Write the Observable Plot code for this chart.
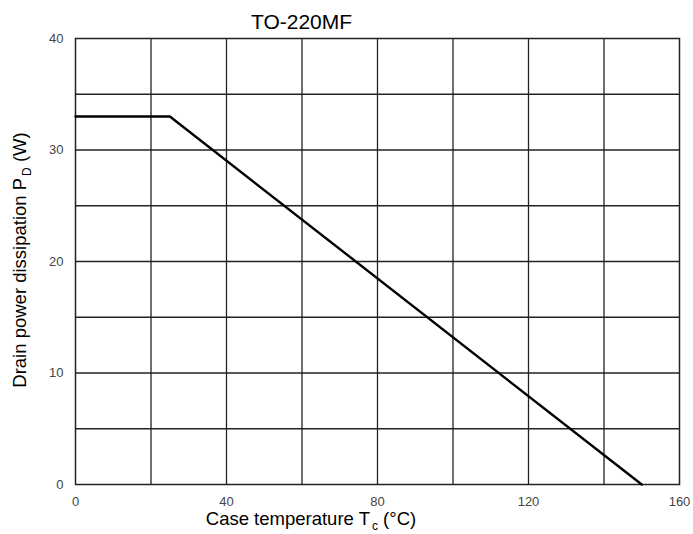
<!DOCTYPE html>
<html>
<head>
<meta charset="utf-8">
<script src="https://cdn.jsdelivr.net/npm/d3@7"></script>
<script src="https://cdn.jsdelivr.net/npm/@observablehq/plot@0.6"></script>
<style>
  html, body { margin: 0; padding: 0; background: #fff; }
  #chart { width: 693px; height: 534px; }
  svg { font-family: "Liberation Sans", Arial, sans-serif; }
</style>
</head>
<body>
<div id="chart"></div>
<script>
// Data
const tempC = [0, 25, 150];
const powerW = [33, 33, 0];
const xTickLabels = [0, 40, 80, 120, 160];
const yTickLabels = [0, 10, 20, 30, 40];
const xGrid = [20, 40, 60, 80, 100, 120, 140];
const yGrid = [5, 10, 15, 20, 25, 30, 35];
const title = "TO-220MF";

const curve = tempC.map((t, i) => ({t, p: powerW[i]}));

const plot = Plot.plot({
  width: 693,
  height: 534,
  marginLeft: 75,
  marginRight: 14,
  marginTop: 38,
  marginBottom: 50,
  style: {fontFamily: "Liberation Sans, Arial, sans-serif", background: "#fff"},
  x: {domain: [0, 160], ticks: xTickLabels, label: null, tickSize: 0, tickPadding: 12},
  y: {domain: [0, 40], ticks: yTickLabels, label: null, tickSize: 0, tickPadding: 12},
  marks: [
    Plot.ruleX(xGrid, {stroke: "#222", strokeWidth: 1.3}),
    Plot.ruleY(yGrid, {stroke: "#222", strokeWidth: 1.3}),
    Plot.frame({stroke: "#222", strokeWidth: 1.5}),
    Plot.axisX({ticks: xTickLabels, tickSize: 0, tickPadding: 12, fontSize: 13, fill: "#444", label: null}),
    Plot.axisY({ticks: yTickLabels, tickSize: 0, tickPadding: 12, fontSize: 13, fill: "#444", label: null}),
    Plot.line(curve, {x: "t", y: "p", stroke: "#000", strokeWidth: 2.4}),
    Plot.text([title], {frameAnchor: "top-left", textAnchor: "middle", lineAnchor: "middle", dx: 226, dy: -16, text: d => d, fontSize: 21, fill: "#000"})
  ]
});
document.getElementById("chart").appendChild(plot);

const svg = d3.select(plot);
// x axis label
const xl = svg.append("text")
  .attr("x", 311).attr("y", 525)
  .attr("text-anchor", "middle")
  .attr("font-size", 18.5).attr("fill", "#000");
xl.append("tspan").text("Case temperature T");
xl.append("tspan").attr("font-size", 12).attr("dx", 2).attr("dy", 5).text("c");
xl.append("tspan").attr("dy", -5).text(" (°C)");

// y axis label
const yl = svg.append("text")
  .attr("transform", "translate(26,260) rotate(-90)")
  .attr("text-anchor", "middle")
  .attr("font-size", 18.5).attr("fill", "#000");
yl.append("tspan").text("Drain power dissipation P");
yl.append("tspan").attr("font-size", 12).attr("dx", 2).attr("dy", 5).text("D");
yl.append("tspan").attr("dy", -5).text(" (W)");
</script>
</body>
</html>
